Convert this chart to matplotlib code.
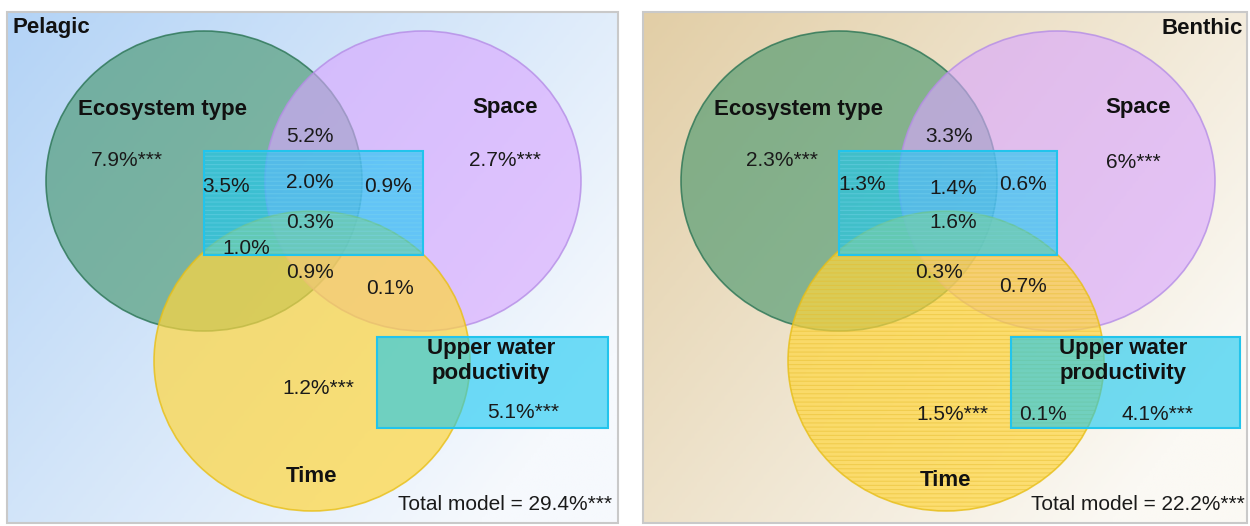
import matplotlib.pyplot as plt
import numpy as np
from matplotlib.patches import Ellipse, Rectangle
from matplotlib.colors import LinearSegmentedColormap

plt.rcParams['font.family'] = ['Liberation Sans', 'DejaVu Sans']
plt.rcParams['hatch.linewidth'] = 0.8

# data
panel_names = ['Pelagic', 'Benthic']
set_names = ['Ecosystem type', 'Space', 'Time']
upw_names = ['Upper water\npoductivity', 'Upper water\nproductivity']
region_keys = ['eco', 'space', 'eco_space', 'eco_upw', 'eco_space_upw', 'space_upw',
               'all', 'eco_time_upw', 'eco_space_time', 'space_time', 'time', 'upw', 'time_upw']
pelagic_values = ['7.9%***', '2.7%***', '5.2%', '3.5%', '2.0%', '0.9%',
                  '0.3%', '1.0%', '0.9%', '0.1%', '1.2%***', '5.1%***', None]
benthic_values = ['2.3%***', '6%***', '3.3%', '1.3%', '1.4%', '0.6%',
                  '1.6%', None, '0.3%', '0.7%', '1.5%***', '4.1%***', '0.1%']
total_model = ['29.4%***', '22.2%***']

# layout (pixel coordinates of the canvas)
panel_boxes = [(7, 12, 618, 523), (643, 12, 1247, 523)]
bg_colors = [('#b3d3f6', '#f6f9fd'), ('#e2cea6', '#fbf9f4')]
circle_centers = [[(204, 181), (423, 181), (312, 361)],
                  [(839, 181), (1057, 181), (946, 361)]]
circle_r = (158, 150)
top_rects = [(204, 151, 423, 255), (839, 151, 1057, 255)]
upw_rects = [(377, 337, 608, 428), (1011, 337, 1240, 428)]
name_pos = [[(163, 110), (505, 108), (311, 477), (491, 361)],
            [(799, 110), (1138, 108), (945, 481), (1123, 361)]]
value_pos = [
    [(127, 160), (505, 160), (310, 136), (226, 187), (310, 182), (388, 186),
     (310, 222), (246, 248), (310, 272), (390, 288), (318, 388), (523, 413), None],
    [(782, 160), (1133, 162), (949, 136), (862, 184), (953, 188), (1023, 184),
     (953, 222), None, (939, 273), (1023, 287), (952, 414), (1157, 414), (1043, 414)],
]
total_pos = [(612, 505), (1245, 505)]
title_pos = [(12, 28, 'left'), (1243, 28, 'right')]

fill_colors = ['#46966c', '#d9a6ff', '#ffd63e']
edge_colors = ['#2a7454', '#b58de6', '#e8bf16']
fill_alpha = [0.62, 0.62, 0.7]

fig = plt.figure(figsize=(12.5, 5.26), dpi=100)
ax = fig.add_axes([0, 0, 1, 1])
ax.set_xlim(0, 1250)
ax.set_ylim(526, 0)
ax.axis('off')

for p in range(2):
    x0, y0, x1, y1 = panel_boxes[p]
    # diagonal gradient background
    gx, gy = np.meshgrid(np.linspace(0, 1, 200), np.linspace(0, 1, 200))
    grad = np.clip((gx * 0.9 + gy * 0.6) / 1.3, 0, 1)
    cmap = LinearSegmentedColormap.from_list('bg%d' % p, bg_colors[p])
    ax.imshow(grad, cmap=cmap, extent=(x0, x1, y1, y0), aspect='auto', zorder=0)
    ax.add_patch(Rectangle((x0, y0), x1 - x0, y1 - y0, fill=False,
                           edgecolor='#c9c9c9', lw=1.5, zorder=1))

    for i in range(3):
        cx, cy = circle_centers[p][i]
        ax.add_patch(Ellipse((cx, cy), 2 * circle_r[0], 2 * circle_r[1],
                             facecolor=fill_colors[i], alpha=fill_alpha[i],
                             edgecolor='none', zorder=2 + i))
        ax.add_patch(Ellipse((cx, cy), 2 * circle_r[0], 2 * circle_r[1],
                             fill=False, edgecolor=edge_colors[i], lw=1.2,
                             alpha=0.8, zorder=2 + i))
    if p == 1:
        cx, cy = circle_centers[p][2]
        ax.add_patch(Ellipse((cx, cy), 2 * circle_r[0], 2 * circle_r[1],
                             fill=False, hatch='----', edgecolor='#e6bc2a',
                             lw=0, alpha=0.45, zorder=5))

    for (rx0, ry0, rx1, ry1), hatch in [(top_rects[p], '----'), (upw_rects[p], None)]:
        ax.add_patch(Rectangle((rx0, ry0), rx1 - rx0, ry1 - ry0,
                               facecolor='#14c8f2', alpha=0.6, edgecolor='none', zorder=6))
        if hatch:
            ax.add_patch(Rectangle((rx0, ry0), rx1 - rx0, ry1 - ry0, fill=False,
                                   hatch=hatch, edgecolor='#7fd8f0', lw=0,
                                   alpha=0.35, zorder=6))
        ax.add_patch(Rectangle((rx0, ry0), rx1 - rx0, ry1 - ry0, fill=False,
                               edgecolor='#22c4ec', lw=1.5, zorder=6))

    tx, ty, tha = title_pos[p]
    ax.text(tx, ty, panel_names[p], ha=tha, va='center', fontsize=16,
            fontweight='bold', color='#111111', zorder=10)

    names = set_names + [upw_names[p]]
    for name, (nx, ny) in zip(names, name_pos[p]):
        ax.text(nx, ny, name, ha='center', va='center', fontsize=16,
                fontweight='bold', color='#111111', linespacing=1.25, zorder=10)

    vals = pelagic_values if p == 0 else benthic_values
    for v, pos in zip(vals, value_pos[p]):
        if v is None:
            continue
        ax.text(pos[0], pos[1], v, ha='center', va='center', fontsize=15,
                color='#1a1a1a', zorder=10)

    ax.text(total_pos[p][0], total_pos[p][1], 'Total model = ' + total_model[p],
            ha='right', va='center', fontsize=15, color='#1a1a1a', zorder=10)

fig.savefig('out.png', dpi=100)
